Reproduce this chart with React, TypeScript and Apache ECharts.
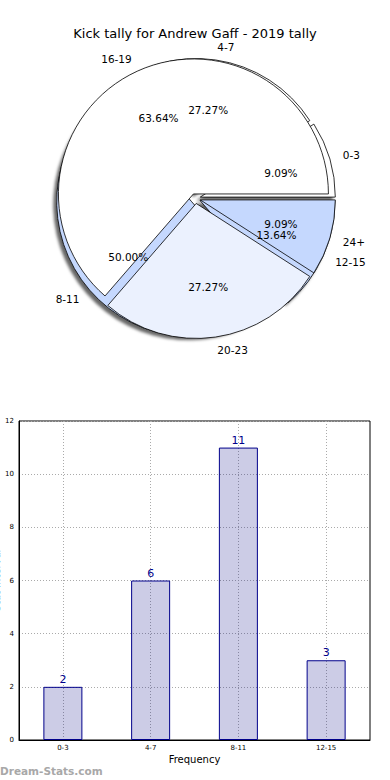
import React, { useEffect, useRef } from 'react';
import * as echarts from 'echarts';

const titleText = 'Kick tally for Andrew Gaff - 2019 tally';

// Pie 1 (drawn underneath)
const innerNames = ['0-3', '4-7', '8-11', '12-15'];
const innerValues = [2, 6, 11, 3];
const innerColors = ['#ffffff', '#ffffff', '#c5d8fe', '#c5d8fe'];

// Pie 2 (drawn on top)
const outerNames = ['16-19', '20-23', '24+'];
const outerValues = [14, 6, 2];
const outerColors = ['#ffffff', '#ebf1fe', '#c5d8fe'];

// Bar chart
const barCategories = ['0-3', '4-7', '8-11', '12-15'];
const barValues = [2, 6, 11, 3];
const yMin = 0;
const yMax = 12;
const yInterval = 2;
const xAxisName = 'Frequency';
const yAxisName = 'Stat Interval';
const watermark = 'Dream-Stats.com';

const FONT = 'DejaVu Sans';
const CENTER = [195.5, 198.5];
const R = 135;
const EXPLODE = 5;

function pieData(names: string[], values: number[], colors: string[] | null) {
  return names.map((n, i) => ({
    name: n,
    value: values[i],
    selected: true,
    itemStyle: colors ? { color: colors[i] } : undefined,
  }));
}

export default function App() {
  const ref = useRef<HTMLDivElement>(null);
  useEffect(() => {
    document.body.style.margin = '0';
    const chart = echarts.init(ref.current!, null, { renderer: 'svg' });
    const sliceStyle = {
      borderColor: '#000',
      borderWidth: 0.8,
    };
    const shadowStyle = {
      ...sliceStyle,
      shadowBlur: 3,
      shadowOffsetX: -3,
      shadowOffsetY: 3,
      shadowColor: 'rgba(0,0,0,0.6)',
    };
    const mainPie = (names: string[], values: number[], colors: string[], style: any) => ({
      type: 'pie',
      center: CENTER,
      radius: R,
      startAngle: 0,
      clockwise: false,
      selectedMode: 'multiple',
      selectedOffset: EXPLODE,
      avoidLabelOverlap: false,
      itemStyle: style,
      select: { itemStyle: style, label: { color: '#000' } },
      emphasis: { disabled: true },
      label: {
        show: true,
        position: 'outside',
        formatter: '{b}',
        fontSize: 10.5,
        fontFamily: FONT,
        color: '#000',
        distanceToLabelLine: 0,
      },
      labelLine: { show: false, length: R * 0.1, length2: 0 },
      data: pieData(names, values, colors),
    });
    const pctPie = (names: string[], values: number[]) => ({
      type: 'pie',
      center: CENTER,
      radius: [R * 0.2, R],
      startAngle: 0,
      clockwise: false,
      selectedMode: 'multiple',
      selectedOffset: EXPLODE,
      avoidLabelOverlap: false,
      silent: true,
      itemStyle: { color: 'rgba(0,0,0,0)', borderWidth: 0 },
      select: { itemStyle: { color: 'rgba(0,0,0,0)', borderWidth: 0 }, label: { color: '#000' } },
      emphasis: { disabled: true },
      label: {
        show: true,
        position: 'inside',
        formatter: (p: any) => p.percent.toFixed(2) + '%',
        fontSize: 10.5,
        fontFamily: FONT,
        color: '#000',
      },
      labelLine: { show: false },
      data: pieData(names, values, null),
    });

    chart.setOption({
      animation: false,
      title: {
        text: titleText,
        left: 'center',
        top: 22,
        textStyle: { fontSize: 13, fontWeight: 'normal', color: '#000', fontFamily: FONT },
      },
      grid: {
        left: 19,
        right: 20,
        top: 421,
        bottom: 40,
        outerBoundsMode: 'none',
        containLabel: false,
        show: true,
        borderColor: '#000',
        borderWidth: 1,
        backgroundColor: 'transparent',
      },
      xAxis: {
        type: 'category',
        data: barCategories,
        axisLine: { lineStyle: { color: '#000', width: 1 } },
        axisTick: { show: false },
        axisLabel: { fontSize: 7, color: '#000', margin: 4, fontFamily: FONT },
        splitLine: {
          show: true,
          alignWithLabel: true,
          lineStyle: { type: [1, 2], color: '#aaa', width: 1 },
        },
        name: xAxisName,
        nameLocation: 'middle',
        nameGap: 14,
        nameMoveOverlap: false,
        nameTextStyle: { fontSize: 10, color: '#000', fontFamily: FONT },
      },
      yAxis: {
        type: 'value',
        min: yMin,
        max: yMax,
        interval: yInterval,
        axisLine: { show: true, lineStyle: { color: '#000', width: 1 } },
        axisTick: { show: false },
        axisLabel: { fontSize: 7, color: '#000', margin: 5, fontFamily: FONT },
        splitLine: { show: true, lineStyle: { type: [1, 2], color: '#aaa', width: 1 } },
        name: yAxisName,
        nameLocation: 'middle',
        nameGap: 18,
        nameMoveOverlap: false,
        nameTextStyle: { fontSize: 10, color: '#000', fontFamily: FONT },
      },
      graphic: [
        {
          type: 'text',
          left: 0,
          top: 765,
          style: { text: watermark, fill: '#a8a8a8', font: 'bold 10.5px "DejaVu Sans"' },
        },
      ],
      series: [
        mainPie(innerNames, innerValues, innerColors, shadowStyle),
        mainPie(outerNames, outerValues, outerColors, sliceStyle),
        pctPie(innerNames, innerValues),
        pctPie(outerNames, outerValues),
        {
          type: 'bar',
          data: barValues,
          barWidth: 39,
          itemStyle: { color: 'rgba(0,0,128,0.2)', borderColor: '#00008b', borderWidth: 1 },
          label: { show: true, position: 'top', color: '#00008b', fontSize: 11, distance: 2, fontFamily: FONT },
          emphasis: { disabled: true },
        },
      ],
    });
    return () => chart.dispose();
  }, []);
  return <div ref={ref} style={{ width: 390, height: 780 }} />;
}
